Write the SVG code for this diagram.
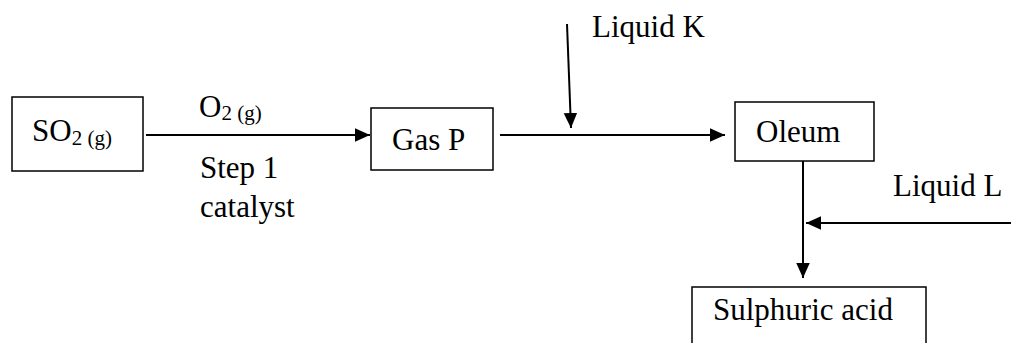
<svg xmlns="http://www.w3.org/2000/svg" width="1011" height="343" viewBox="0 0 1011 343">
<defs>
<style>
.box{fill:#fff;stroke:#000;stroke-width:1.5}
.ln{stroke:#000;stroke-width:2;fill:none}
text{font-family:"Liberation Serif","Times New Roman",serif;font-size:31px;fill:#000}
.sub{font-size:21px}
</style>
<marker id="ah" viewBox="0 0 10 10" refX="10" refY="5" markerWidth="7" markerHeight="7" markerUnits="userSpaceOnUse" orient="auto">
<path d="M0,0 L10,5 L0,10 z" fill="#000"/>
</marker>
<marker id="ahb" viewBox="0 0 10 10" refX="10" refY="5" markerWidth="15" markerHeight="15" orient="auto" markerUnits="userSpaceOnUse">
<path d="M0,0.5 L10,5 L0,9.5 z" fill="#000"/>
</marker>
</defs>
<g id="connectors">
<line class="ln" x1="146" y1="135" x2="370" y2="135" marker-end="url(#ahb)"/>
<line class="ln" x1="500" y1="135" x2="725" y2="135" marker-end="url(#ahb)"/>
<line class="ln" x1="567" y1="24" x2="571" y2="128" marker-end="url(#ahb)"/>
<line class="ln" x1="803" y1="161" x2="803" y2="278" marker-end="url(#ahb)"/>
<line class="ln" x1="1011" y1="223" x2="806" y2="223" marker-end="url(#ahb)"/>
</g>
<g id="so2">
<rect class="box" x="12" y="97" width="131" height="74"/>
<text x="32" y="141">SO<tspan class="sub" dy="4">2 (g)</tspan></text>
</g>
<g id="labels-step1">
<text x="199" y="117">O<tspan class="sub" dy="3">2 (g)</tspan></text>
<text x="200" y="178">Step 1</text>
<text x="200" y="217">catalyst</text>
</g>
<g id="gasP">
<rect class="box" x="371" y="108" width="122" height="62"/>
<text x="392" y="150">Gas P</text>
</g>
<g id="liquidK">
<text x="592" y="37">Liquid K</text>
</g>
<g id="oleum">
<rect class="box" x="735" y="102" width="139" height="59"/>
<text x="756" y="142">Oleum</text>
</g>
<g id="liquidL">
<text x="893" y="196">Liquid L</text>
</g>
<g id="sulphuric">
<rect class="box" x="692" y="287" width="234" height="70"/>
<text x="713" y="320">Sulphuric acid</text>
</g>
</svg>
